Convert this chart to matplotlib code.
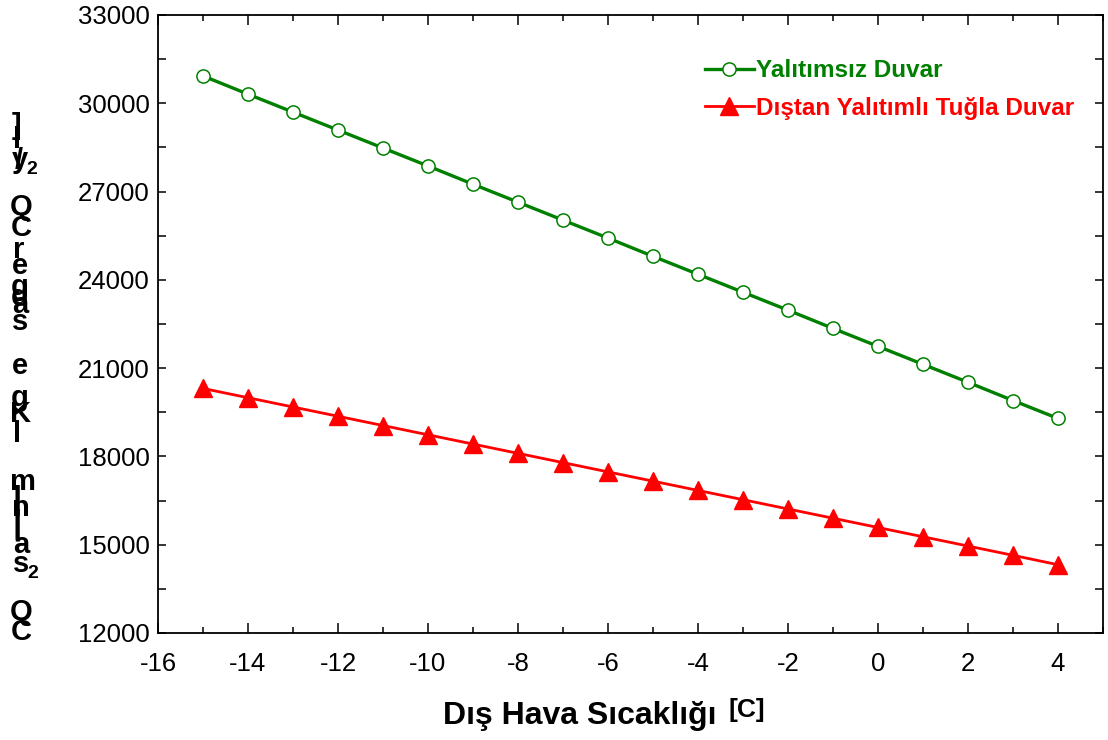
import matplotlib.pyplot as plt
from matplotlib.ticker import MultipleLocator

plt.rcParams['font.family'] = ['Liberation Sans', 'DejaVu Sans']
plt.rcParams['axes.unicode_minus'] = False

# dis hava sicakligi [C]
sicaklik = [-15, -14, -13, -12, -11, -10, -9, -8, -7, -6, -5, -4, -3, -2, -1, 0, 1, 2, 3, 4]
# yalitimsiz duvar
yalitimsiz = [30930, 30310, 29700, 29090, 28480, 27870, 27250, 26640, 26030, 25420,
              24800, 24190, 23580, 22970, 22350, 21740, 21130, 20520, 19900, 19290]
# distan yalitimli tugla duvar
yalitimli = [20310, 19995, 19680, 19365, 19050, 18735, 18420, 18105, 17790, 17475,
             17160, 16845, 16530, 16215, 15900, 15585, 15270, 14955, 14640, 14320]

W, H = 1108, 740
fig = plt.figure(figsize=(W / 100, H / 100), dpi=100)
ax = fig.add_axes([158 / W, (H - 633) / H, (1103 - 158) / W, (633 - 15) / H])

ax.plot(sicaklik, yalitimsiz, color='#008000', lw=2.4, marker='o', ms=9.5,
        mfc='white', mec='#008000', mew=1.1, label='Yalıtımsız Duvar')
ax.plot(sicaklik, yalitimli, color='#ff0000', lw=2.0, marker='^', ms=13,
        mfc='#ff0000', mec='#ff0000', label='Dıştan Yalıtımlı Tuğla Duvar')

ax.set_xlim(-16, 5)
ax.set_ylim(12000, 33000)
ax.xaxis.set_major_locator(MultipleLocator(2))
ax.xaxis.set_minor_locator(MultipleLocator(1))
ax.yaxis.set_major_locator(MultipleLocator(3000))
ax.yaxis.set_minor_locator(MultipleLocator(1500))
ax.tick_params(which='both', direction='in', top=True, right=True, width=1.1,
               labelsize=18.5)
ax.tick_params(axis='x', which='major', length=7, pad=14)
ax.tick_params(axis='x', which='minor', length=4)
ax.tick_params(axis='y', which='both', length=6, pad=6)
for s in ax.spines.values():
    s.set_linewidth(1.3)

leg = ax.legend(loc='upper left', bbox_to_anchor=(693 / W, (H - 47) / H),
                bbox_transform=fig.transFigure, frameon=False, borderpad=0,
                handlelength=2.0, handletextpad=0.1, labelspacing=0.6,
                labelcolor='linecolor', prop={'weight': 'bold', 'size': 17.5})

# x ekseni basligi
fig.text(443 / W, (H - 724) / H, 'Dış Hava Sıcaklığı', fontsize=23,
         fontweight='bold', ha='left', va='baseline')
fig.text(729 / W, (H - 717) / H, '[C]', fontsize=19, fontweight='bold',
         ha='left', va='baseline')

# y ekseni basligi (ust uste binmis karakterler)
ylabel_chars = [
    (']', 16, 126, 21), ('l', 17, 140, 21), ('y', 20, 160, 21), ('/', 19, 161, 21),
    ('2', 32, 170, 14), ('Q', 21, 207, 21), ('C', 21, 228, 21), ('r', 19, 250, 21),
    ('e', 20, 266, 21), ('g', 20, 287, 21), ('d', 20, 297, 21), ('a', 20, 305, 21),
    ('s', 20, 322, 21), ('e', 20, 366, 21), ('g', 20, 398, 21), ('K', 21, 414, 21),
    ('l', 17, 434, 21), ('m', 23, 482, 21), ('|', 17, 500, 24), ('n', 21, 508, 21),
    ('|', 17, 525, 24), ('a', 21, 545, 21), ('s', 21, 564, 21), ('2', 33, 574, 14),
    ('Q', 21, 612, 21), ('C', 21, 632, 21),
]
for ch, x, y, fs in ylabel_chars:
    fig.text(x / W, (H - y) / H, ch, fontsize=fs, fontweight='bold',
             ha='center', va='center')

fig.savefig('out.png', dpi=100)
